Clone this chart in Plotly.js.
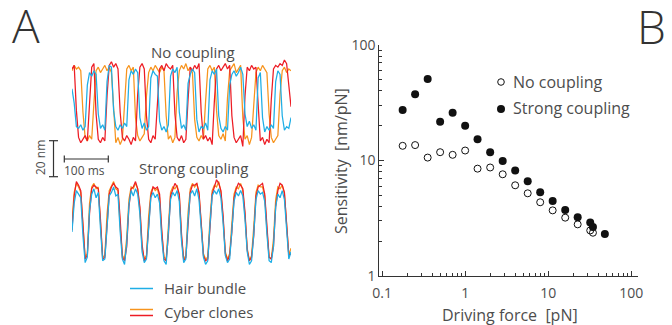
<!DOCTYPE html>
<html>
<head>
<meta charset="utf-8">
<script src="https://cdn.plot.ly/plotly-3.0.1.min.js"></script>
<style>html,body{margin:0;padding:0;background:#fff;}#chart{width:672px;height:325px;}</style>
</head>
<body>
<div id="chart"></div>
<script>
// ---------- Panel B data ----------
var forceNo = [0.177,0.25,0.354,0.5,0.707,1,1.41,2,2.83,4,5.66,8,11.3,16,22.6,32,34.5];
var sensNo = [13.4,13.6,10.6,11.8,11.2,12.2,8.5,8.7,7.6,6.1,5.2,4.35,3.7,3.2,2.8,2.48,2.37];
var forceStrong = [0.177,0.25,0.354,0.5,0.707,1,1.41,2,2.83,4,5.66,8,11.3,16,22.6,32,34.5,48];
var sensStrong = [27.4,37.4,50.8,21.7,25.9,20.0,15.3,11.8,9.9,8.2,6.6,5.3,4.46,3.73,3.22,2.9,2.66,2.31];

// ---------- Panel A data (nm, sampled every 5 ms) ----------
var sampleMs = 5;
var noBundle = [28,20,7,6,8,5,7,30,37,35,38,36,14,6,8,5,32,41,40,16,7,5,8,6,9,7,33,38,36,39,37,12,6,9,5,7,34,38,36,35,10,5,7,4,8,35,39,37,40,15,6,8,5,31,36,39,37,11,4,7,6,9,5,33,38,36,39,13,6,4,7,5,30,36,38,35,37,40,36,14,7,10,6,8,5,34,37,12,4,7,5,8,6,32,38,36,13,5,7,6,12];
var noClone1 = [38,41,39,40,38,15,1,-1,2,0,20,38,40,37,39,41,38,40,37,14,-2,1,-3,0,22,39,41,38,40,12,2,-1,1,3,24,37,40,38,41,39,37,40,38,13,0,2,-2,1,26,38,41,39,42,38,40,37,11,1,-1,2,0,21,39,41,38,40,16,2,0,3,-1,23,38,40,42,37,39,41,12,0,2,-3,1,20,37,40,38,41,39,37,14,1,-2,0,2,25,38,40,37,39,38];
var noClone2 = [39,41,16,1,-2,0,2,-1,22,40,42,14,0,-2,1,-1,24,41,43,40,42,39,15,1,-1,2,0,-3,1,-1,25,40,42,39,13,0,-2,2,0,23,39,41,38,42,40,39,41,14,1,-1,2,-2,0,22,40,38,41,39,42,15,0,2,-1,1,-3,21,39,41,38,40,42,39,41,13,1,-2,0,2,-4,24,40,38,41,39,40,16,-1,1,-3,0,-2,22,39,41,40,42,41,44,42,30,18];
var stBundle = [14,30,37,35,33,12,-3,0,26,35,38,33,36,16,-2,-1,20,34,36,39,34,35,14,-1,-4,8,29,37,34,38,35,24,3,-3,-1,19,33,36,33,35,30,10,-2,-4,13,32,36,34,37,31,9,-3,-1,21,35,37,34,38,32,15,0,-4,-2,18,34,37,35,38,33,19,1,-3,-1,15,31,36,34,37,34,21,3,-4,-2,13,32,37,35,36,31,13,-2,-3,6,28,35,33,37,32,13,-1,3];
var stClone1 = [20,36,41,39,36,15,0,2,30,39,41,38,39,19,0,1,24,37,40,42,38,37,17,1,-1,11,32,39,38,41,38,26,5,-1,1,23,36,39,37,38,33,13,0,-1,17,36,39,38,40,34,11,-1,1,25,38,41,39,41,35,17,2,-1,0,21,37,40,39,42,36,21,3,-1,2,19,35,39,38,41,37,23,5,-2,1,17,36,40,39,39,34,15,0,-1,10,32,39,38,40,35,15,1,5];
var stClone2 = [15,34,42,40,37,17,-1,1,24,38,40,39,38,21,-1,0,18,35,39,41,39,38,21,0,-2,6,28,38,39,42,38,28,7,-2,0,17,34,39,38,39,35,15,-1,-2,12,34,38,41,39,35,13,-2,0,20,36,40,40,41,36,19,1,-2,-1,16,35,39,43,41,37,23,2,-2,1,14,33,38,41,40,38,25,4,-2,0,12,34,39,40,41,35,17,0,-1,6,28,37,41,40,36,17,1,2];

// ---------- colours / fonts ----------
var blue = '#1eaee6', orange = '#f7941d', red = '#ed1c24';
var txt = '#4d4d4d', axc = '#333333';
var FF = '"Open Sans", "Liberation Sans", sans-serif';
var W = 672, H = 325;
function px(x){return x/W;}
function py(y){return 1 - y/H;}

function tr(y, color, xa, ya){
  return {y: y, x0: 0, dx: sampleMs, type: 'scatter', mode: 'lines',
    line: {color: color, width: 1.25}, xaxis: xa, yaxis: ya,
    showlegend: false, hoverinfo: 'skip'};
}

var data = [
  tr(noClone1, orange, 'x2', 'y2'),
  tr(noClone2, red, 'x2', 'y2'),
  tr(noBundle, blue, 'x2', 'y2'),
  tr(stClone1, orange, 'x3', 'y3'),
  tr(stClone2, red, 'x3', 'y3'),
  tr(stBundle, blue, 'x3', 'y3'),
  {x: forceNo, y: sensNo, type: 'scatter', mode: 'markers', name: 'No coupling',
   marker: {symbol: 'circle-open', size: 7, color: '#111', line: {width: 1, color: '#111'}},
   xaxis: 'x', yaxis: 'y', showlegend: false, cliponaxis: false},
  {x: forceStrong, y: sensStrong, type: 'scatter', mode: 'markers', name: 'Strong coupling',
   marker: {symbol: 'circle', size: 8, color: '#111'},
   xaxis: 'x', yaxis: 'y', showlegend: false, cliponaxis: false}
];

var hidden = {visible: false, fixedrange: true};
var layout = {
  width: W, height: H,
  margin: {l: 0, r: 0, t: 0, b: 0, pad: 0},
  paper_bgcolor: '#fff', plot_bgcolor: 'rgba(0,0,0,0)',
  font: {family: FF, color: txt, size: 14},
  showlegend: false,
  xaxis: {type: 'log', domain: [px(379.3), px(638)], range: [-1.033, 2.08],
    showline: true, linecolor: axc, linewidth: 1, showgrid: false, zeroline: false,
    ticks: 'inside', ticklen: 5, tickcolor: axc, tickwidth: 1,
    tickvals: [0.1, 1, 10, 100], ticktext: ['0.1', '1', '10', '100'],
    ticklabelstandoff: 4,
    tickfont: {size: 14, color: txt, family: FF},
    minor: {ticks: 'inside', ticklen: 3, tickcolor: axc, tickwidth: 1,
      tickvals: [0.2,0.3,0.4,0.5,0.6,0.7,0.8,0.9,2,3,4,5,6,7,8,9,20,30,40,50,60,70,80,90]},
    anchor: 'y'},
  yaxis: {type: 'log', domain: [py(276), py(45)], range: [0, 2],
    showline: true, linecolor: axc, linewidth: 1, showgrid: false, zeroline: false,
    ticks: 'inside', ticklen: 5, tickcolor: axc, tickwidth: 1,
    tickvals: [1, 10, 100], ticktext: ['1', '10', '100'],
    tickfont: {size: 14, color: txt, family: FF},
    minor: {ticks: 'inside', ticklen: 3, tickcolor: axc, tickwidth: 1,
      tickvals: [2,3,4,5,6,7,8,9,20,30,40,50,60,70,80,90]},
    anchor: 'x'},
  xaxis2: Object.assign({domain: [px(72), px(291)], range: [0, 500], anchor: 'y2'}, hidden),
  yaxis2: Object.assign({domain: [py(150), py(58)], range: [-6, 45.1], anchor: 'x2'}, hidden),
  xaxis3: Object.assign({domain: [px(72), px(291)], range: [0, 500], anchor: 'y3'}, hidden),
  yaxis3: Object.assign({domain: [py(268), py(176)], range: [-6, 45.1], anchor: 'x3'}, hidden),
  shapes: [],
  annotations: []
};

function ann(text, x, y, opt){
  var a = Object.assign({text: text, x: px(x), y: py(y), xref: 'paper', yref: 'paper',
    showarrow: false, xanchor: 'center', yanchor: 'middle',
    font: {family: FF, size: 14, color: txt}}, opt || {});
  layout.annotations.push(a);
}
function line(x0, y0, x1, y1, color, w){
  layout.shapes.push({type: 'line', xref: 'paper', yref: 'paper',
    x0: px(x0), y0: py(y0), x1: px(x1), y1: py(y1),
    line: {color: color, width: w}});
}

// Panel letters
ann('A', 26, 25, {font: {family: FF, size: 46, color: '#333', weight: 300}});
ann('B', 651, 26, {font: {family: FF, size: 46, color: '#333', weight: 300}});

// Panel A titles
ann('No coupling', 193, 52, {font: {family: FF, size: 15, color: txt}});
ann('Strong coupling', 193, 168, {font: {family: FF, size: 15, color: txt}});

// Scale bars
line(53.5, 140.7, 53.5, 176.7, '#333', 1.2);
line(49, 140.7, 58, 140.7, '#333', 1.2);
line(49, 176.7, 58, 176.7, '#333', 1.2);
line(64.3, 159, 108.3, 159, '#333', 1.2);
line(64.3, 155.5, 64.3, 162.5, '#333', 1.2);
line(108.3, 155.5, 108.3, 162.5, '#333', 1.2);
ann('100 ms', 84, 170, {font: {family: FF, size: 12, color: txt}});
ann('20 nm', 40, 158, {textangle: -90, font: {family: FF, size: 12, color: txt}});

// Panel A legend
line(130, 288.5, 153, 288.5, blue, 1.5);
line(130, 309.5, 153, 309.5, orange, 1.5);
line(130, 315.5, 153, 315.5, red, 1.5);
ann('Hair bundle', 162, 288, {xanchor: 'left', font: {family: FF, size: 15, color: txt}});
ann('Cyber clones', 162, 312, {xanchor: 'left', font: {family: FF, size: 15, color: txt}});

// Panel B legend
layout.shapes.push({type: 'circle', xref: 'paper', yref: 'paper', xsizemode: 'pixel', ysizemode: 'pixel',
  xanchor: px(501), yanchor: py(82), x0: -3.3, x1: 3.3, y0: -3.3, y1: 3.3,
  line: {color: '#111', width: 1}, fillcolor: '#fff'});
layout.shapes.push({type: 'circle', xref: 'paper', yref: 'paper', xsizemode: 'pixel', ysizemode: 'pixel',
  xanchor: px(501), yanchor: py(109), x0: -4, x1: 4, y0: -4, y1: 4,
  line: {color: '#111', width: 0}, fillcolor: '#111'});
ann('No coupling', 511, 82, {xanchor: 'left', font: {family: FF, size: 16, color: txt}});
ann('Strong coupling', 511, 108, {xanchor: 'left', font: {family: FF, size: 16, color: txt}});

// Panel B axis titles
ann('Driving force  [pN]', 510, 315, {font: {family: FF, size: 16, color: txt}});
ann('Sensitivity  [nm/pN]', 341, 161, {textangle: -90, font: {family: FF, size: 16, color: txt}});

Plotly.newPlot('chart', data, layout, {staticPlot: true, displayModeBar: false});
</script>
</body>
</html>
